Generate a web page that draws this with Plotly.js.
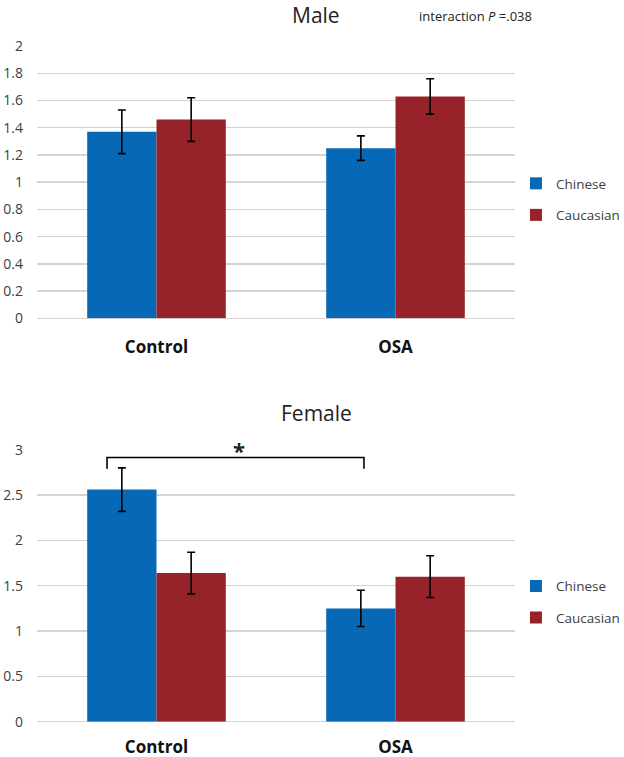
<!DOCTYPE html>
<html>
<head>
<meta charset="utf-8">
<script src="https://cdn.plot.ly/plotly-3.0.1.min.js"></script>
<style>html,body{margin:0;padding:0;background:#fff}#chart{width:624px;height:757px}</style>
</head>
<body>
<div id="chart"></div>
<script>
const categories = ['Control', 'OSA'];
const seriesNames = ['Chinese', 'Caucasian'];
const maleChinese = [1.37, 1.25];
const maleChineseErr = [0.16, 0.09];
const maleCaucasian = [1.46, 1.63];
const maleCaucasianErr = [0.16, 0.13];
const femaleChinese = [2.56, 1.25];
const femaleChineseErr = [0.24, 0.20];
const femaleCaucasian = [1.64, 1.60];
const femaleCaucasianErr = [0.23, 0.23];
const maleTicks = [0, 0.2, 0.4, 0.6, 0.8, 1, 1.2, 1.4, 1.6, 1.8, 2];
const femaleTicks = [0, 0.5, 1, 1.5, 2, 2.5, 3];

const colors = ['#0768b6', '#97232a'];
const tickFont = {family: 'Open Sans', size: 14, color: '#404040'};

function bar(name, y, err, color, xa, ya, legend, group) {
  return {
    type: 'bar', name: name, x: categories, y: y,
    xaxis: xa, yaxis: ya, legend: legend, legendgroup: group,
    marker: {color: color, line: {width: 0}},
    error_y: {type: 'data', array: err, visible: true, color: '#000', thickness: 1.6, width: 4},
    hoverinfo: 'skip'
  };
}

const data = [
  bar(seriesNames[0], maleChinese, maleChineseErr, colors[0], 'x', 'y', 'legend', 'a'),
  bar(seriesNames[1], maleCaucasian, maleCaucasianErr, colors[1], 'x', 'y', 'legend', 'b'),
  bar(seriesNames[0], femaleChinese, femaleChineseErr, colors[0], 'x2', 'y2', 'legend2', 'c'),
  bar(seriesNames[1], femaleCaucasian, femaleCaucasianErr, colors[1], 'x2', 'y2', 'legend2', 'd')
];

const yCommon = {
  showgrid: true, gridcolor: '#d4d4d4', gridwidth: 1.5,
  zeroline: true, zerolinecolor: '#d4d4d4', zerolinewidth: 1.5,
  showline: false, ticks: '', tickfont: tickFont, ticklabelstandoff: 13
};
const xCommon = {
  type: 'category', showgrid: false, zeroline: false, showline: false, ticks: '',
  tickfont: {family: 'Open Sans', size: 17, color: '#111', weight: 'bold'},
  domain: [0, 1]
};

const legendCommon = {
  font: {family: 'Open Sans', size: 13.5, color: '#404040'},
  traceorder: 'grouped', tracegroupgap: 11, itemwidth: 30,
  bgcolor: 'rgba(0,0,0,0)', borderwidth: 0, xanchor: 'left', yanchor: 'top',
  itemclick: false, itemdoubleclick: false
};

const layout = {
  width: 624, height: 757,
  margin: {l: 37, r: 109, t: 0, b: 0, autoexpand: false},
  paper_bgcolor: '#fff', plot_bgcolor: '#fff',
  barmode: 'group', bargap: 0.42, bargroupgap: 0,
  showlegend: true,
  xaxis: Object.assign({}, xCommon, {anchor: 'y', ticklabelstandoff: 17}),
  yaxis: Object.assign({}, yCommon, {domain: [0.5795, 0.9392], range: [0, 2], tickvals: maleTicks, anchor: 'x'}),
  xaxis2: Object.assign({}, xCommon, {anchor: 'y2', ticklabelstandoff: 13}),
  yaxis2: Object.assign({}, yCommon, {domain: [0.0466, 0.4059], range: [0, 3], tickvals: femaleTicks, anchor: 'x2'}),
  legend: Object.assign({}, legendCommon, {x: 1.002, y: 0.778}),
  legend2: Object.assign({}, legendCommon, {x: 1.002, y: 0.246}),
  annotations: [
    {text: 'Male', xref: 'paper', yref: 'paper', x: 0.584, y: 0.9805, showarrow: false,
     font: {family: 'Open Sans', size: 21, color: '#222'}, xanchor: 'center', yanchor: 'middle'},
    {text: 'interaction <i>P</i> =.038', xref: 'paper', yref: 'paper', x: 0.918, y: 0.979, showarrow: false,
     font: {family: 'Open Sans', size: 13, color: '#222'}, xanchor: 'center', yanchor: 'middle'},
    {text: 'Female', xref: 'paper', yref: 'paper', x: 0.584, y: 0.4544, showarrow: false,
     font: {family: 'Open Sans', size: 21, color: '#222'}, xanchor: 'center', yanchor: 'middle'},
    {text: '*', xref: 'x2', yref: 'y2', x: 0.345, y: 3.0, showarrow: false,
     font: {family: 'Open Sans', size: 22, color: '#222', weight: 'bold'}, xanchor: 'center', yanchor: 'middle'}
  ],
  shapes: [
    {type: 'path', xref: 'x2', yref: 'y2',
     path: 'M -0.207,2.79 L -0.207,2.915 L 0.868,2.915 L 0.868,2.79',
     line: {color: '#000', width: 1.6}}
  ]
};

Plotly.newPlot('chart', data, layout, {staticPlot: true, displayModeBar: false});
</script>
</body>
</html>
